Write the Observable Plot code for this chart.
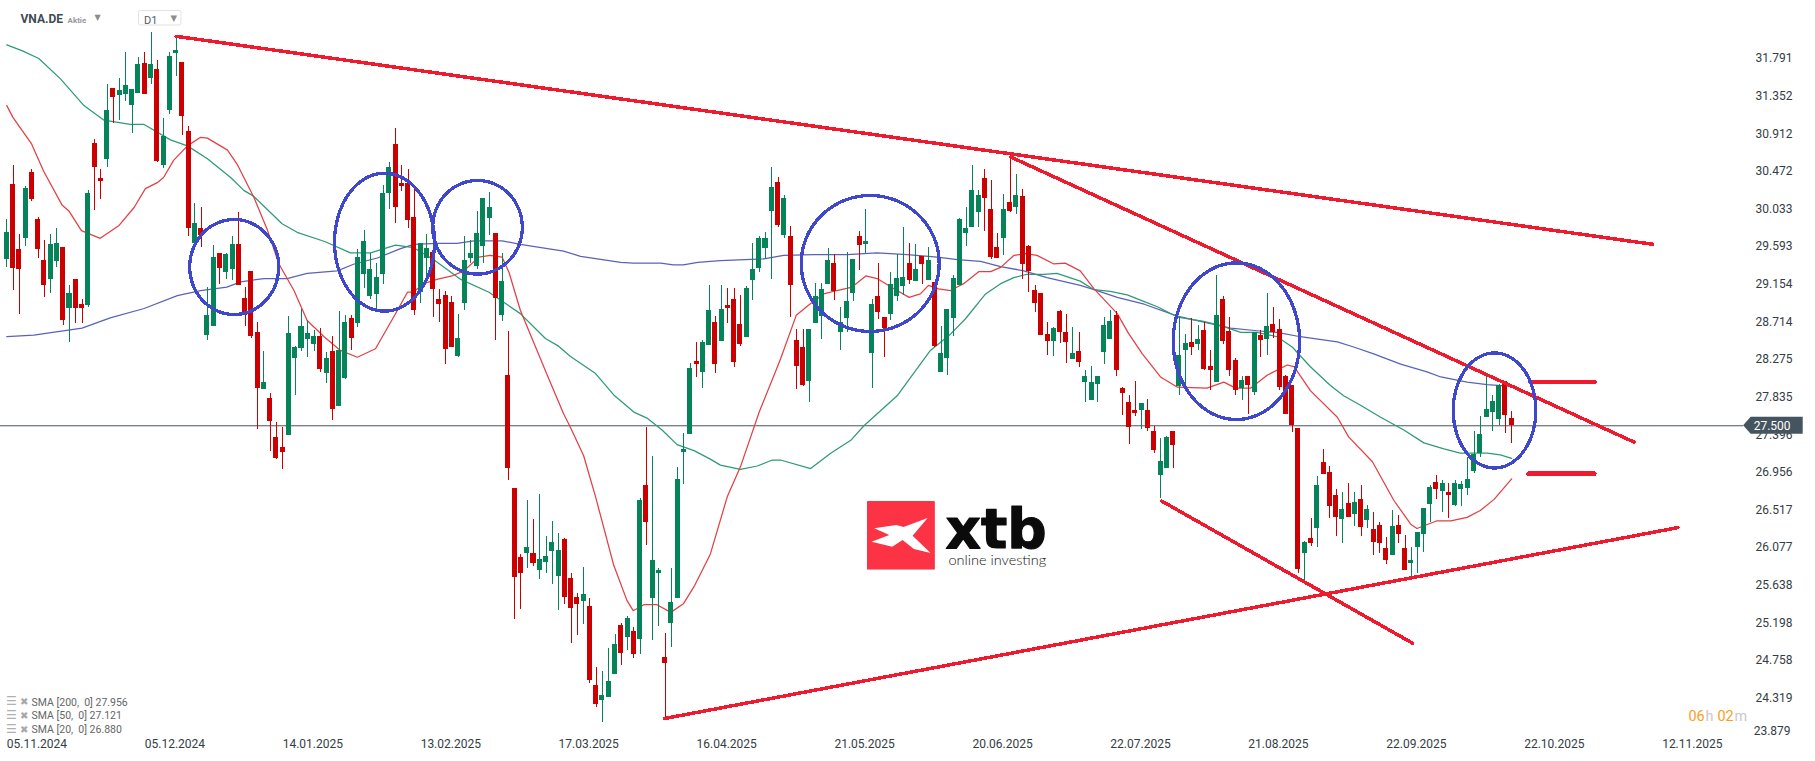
<!DOCTYPE html>
<html><head><meta charset="utf-8">
<style>html,body{margin:0;padding:0;background:#fff;overflow:hidden}</style>
<script src="https://cdn.jsdelivr.net/npm/d3@7"></script>
<script src="https://cdn.jsdelivr.net/npm/@observablehq/plot@0.6"></script>
</head><body><script>
const high=[29.91,30.54,29.74,30.30,30.49,29.93,29.66,29.73,29.80,29.58,
29.14,29.21,28.98,30.25,30.84,30.49,31.49,31.44,31.56,31.86,
31.43,31.80,31.86,32.09,31.77,31.09,31.86,32.05,31.74,31.00,
30.10,30.05,29.12,29.61,29.51,29.51,29.71,29.99,29.12,29.30,
28.71,28.37,27.88,27.54,27.48,28.78,28.43,28.86,28.73,28.61,
28.64,28.36,28.54,28.84,28.79,28.79,29.56,29.78,29.51,29.40,
30.31,30.58,30.97,30.54,30.49,30.28,29.63,29.73,29.58,29.09,
29.07,29.01,28.80,29.71,29.66,30.00,30.16,30.23,29.75,29.51,
28.60,26.77,26.00,26.63,26.41,26.70,26.21,26.38,26.24,26.18,
25.78,25.54,25.85,25.48,24.68,24.63,24.90,25.06,25.19,25.27,
25.14,26.65,27.48,27.14,25.83,25.07,25.83,27.01,27.41,28.23,
28.47,28.50,29.14,28.78,29.14,29.10,29.10,29.02,29.13,29.63,
29.71,29.76,30.52,30.40,30.19,29.83,28.63,28.63,28.63,29.16,
29.16,29.57,29.50,28.88,29.52,29.44,29.77,30.03,28.98,29.40,
28.77,29.29,29.50,29.82,29.63,29.62,29.48,29.58,29.17,28.66,
28.86,29.26,29.92,30.05,30.54,30.25,30.49,30.37,29.75,30.20,
30.65,30.44,30.26,29.61,29.14,29.05,28.71,28.65,28.85,28.80,
28.65,28.59,28.14,28.19,28.08,28.77,28.85,28.84,27.95,27.85,
28.02,27.76,27.81,27.49,27.35,27.38,27.43,28.77,28.57,28.75,
28.67,28.71,28.38,29.26,29.01,28.77,28.29,28.07,28.08,28.59,
28.61,29.05,28.88,28.74,28.09,27.97,27.47,26.15,26.42,26.91,
27.22,27.02,26.76,26.72,26.83,26.72,26.80,26.57,26.49,26.37,
26.19,26.51,26.45,26.22,26.08,26.25,26.53,26.80,26.92,26.86,
26.83,26.86,26.85,27.13,27.43,27.61,28.06,27.85,27.98,28.02,
27.67];
const low=[29.35,29.08,28.80,29.59,30.12,29.45,29.00,29.05,29.35,28.67,
28.47,28.70,28.70,28.88,30.02,30.14,30.52,31.03,31.07,31.29,
30.91,31.38,31.37,31.49,30.58,30.51,31.14,31.58,30.89,29.71,
29.59,29.58,28.50,28.66,29.15,29.21,29.20,29.14,28.66,28.52,
27.46,27.92,27.20,27.11,26.99,27.39,27.85,28.37,28.30,28.37,
28.12,27.99,27.56,27.73,28.04,28.38,28.65,29.10,28.98,28.86,
29.15,30.03,29.86,30.24,29.80,28.79,28.93,29.20,28.77,28.71,
28.22,28.41,28.30,28.85,29.40,29.33,29.40,29.72,28.50,28.72,
26.86,25.24,25.35,25.83,25.86,25.70,25.78,25.65,25.34,25.41,
24.96,25.05,25.18,24.49,24.21,24.03,24.33,24.60,24.70,24.88,
24.78,24.83,26.10,24.99,25.16,24.08,24.91,25.48,26.81,27.40,
28.06,27.94,28.44,28.11,28.49,28.70,28.18,28.43,28.53,28.96,
29.29,29.44,29.21,29.82,29.69,28.77,27.92,27.96,27.77,28.70,
28.51,29.15,28.96,28.38,28.59,28.95,29.31,29.51,27.94,28.74,
28.30,28.73,28.95,29.02,29.15,29.19,29.15,29.20,28.41,28.12,
28.09,28.54,29.14,29.60,29.82,29.82,29.77,29.44,29.45,29.49,
29.99,29.97,29.21,29.06,28.82,28.56,28.32,28.31,28.46,28.23,
28.28,28.18,27.77,27.80,27.77,28.22,28.51,28.07,27.62,27.28,
27.61,27.46,27.43,27.18,26.65,27.00,27.00,27.85,27.96,28.32,
28.38,28.14,27.91,28.01,28.45,28.07,27.85,27.80,27.63,27.85,
28.30,28.32,28.52,27.91,27.63,27.42,25.77,25.67,26.09,26.08,
26.93,26.42,26.21,26.13,26.43,26.32,26.21,26.30,25.98,26.01,
25.88,25.98,26.13,25.81,25.74,25.77,26.02,26.37,26.64,26.49,
26.42,26.56,26.56,26.69,26.94,27.13,27.60,27.43,27.50,27.41,
27.29];
const open=[29.44,30.32,29.56,29.69,30.46,29.91,29.43,29.21,29.42,29.58,
28.87,29.21,28.92,28.91,30.80,30.39,30.61,31.44,31.36,31.37,
31.24,31.38,31.73,31.56,31.66,30.54,31.18,31.85,31.74,30.94,
29.63,29.80,28.55,28.66,29.51,29.29,29.33,29.62,28.99,29.30,
28.59,27.92,27.82,27.36,27.25,27.39,28.29,28.40,28.51,28.45,
28.54,28.11,28.37,27.73,28.05,28.75,28.70,29.27,29.01,29.03,
29.27,30.21,30.79,30.33,30.33,29.93,29.06,29.45,29.52,28.98,
29.02,28.94,28.31,28.93,29.45,29.36,29.59,29.92,29.75,28.79,
28.09,26.77,25.96,26.01,26.01,25.81,25.90,26.03,25.74,26.17,
25.72,25.49,25.45,25.39,24.47,24.29,24.33,24.60,25.17,25.03,
25.10,25.00,26.80,25.48,25.78,24.79,25.19,25.48,27.19,27.40,
28.25,28.12,28.44,28.71,28.49,28.91,28.98,28.68,28.53,29.20,
29.34,29.57,30.00,30.34,29.72,29.71,28.50,28.42,28.02,28.70,
28.78,29.15,29.40,28.59,28.75,29.05,29.71,29.62,28.34,29.01,
28.77,28.80,29.01,29.13,29.40,29.19,29.48,29.20,29.17,28.12,
28.29,28.75,29.14,29.75,29.82,29.99,30.39,30.03,29.58,29.69,
30.11,30.05,30.18,29.60,29.08,29.05,28.57,28.49,28.84,28.59,
28.28,28.37,28.01,27.80,27.98,28.36,28.51,28.79,27.93,27.77,
27.68,27.68,27.68,27.43,26.92,27.00,27.43,27.96,28.38,28.47,
28.45,28.61,28.19,28.01,28.98,28.60,28.26,27.94,28.08,27.89,
28.56,28.51,28.68,28.63,28.07,27.97,27.47,26.01,26.18,26.30,
27.07,26.95,26.69,26.41,26.59,26.46,26.64,26.39,26.29,26.33,
26.07,25.98,26.33,26.07,25.89,26.08,26.23,26.58,26.84,26.73,
26.72,26.57,26.76,26.77,26.97,27.18,27.60,27.65,27.57,28.02,
27.59];
const close=[29.76,29.34,29.32,30.27,30.14,29.56,29.14,29.62,29.63,28.73,
29.05,28.87,28.87,30.21,30.52,30.35,31.18,31.34,31.42,31.48,
31.43,31.72,31.37,31.72,30.59,30.88,31.81,31.88,31.11,29.80,
29.86,29.72,28.79,29.47,29.34,29.50,29.62,29.14,28.79,28.54,
27.94,28.01,27.55,27.12,27.19,28.58,28.41,28.66,28.58,28.54,
28.16,28.29,27.69,28.38,28.71,28.52,29.47,29.65,29.33,29.23,
30.21,30.52,30.05,30.30,29.90,28.85,29.63,29.57,29.09,28.92,
28.39,28.41,28.52,29.43,29.51,29.75,30.16,30.05,28.99,29.19,
27.00,25.73,25.78,26.08,25.89,25.94,25.97,26.14,26.04,25.49,
25.37,25.41,25.53,24.52,24.24,24.35,24.51,24.95,24.84,25.25,
24.83,26.63,26.37,25.93,25.81,24.72,25.44,26.87,27.22,28.17,
28.22,28.47,28.85,28.22,28.86,28.87,28.24,28.45,29.10,29.33,
29.69,29.69,30.28,29.84,30.16,29.14,28.19,27.97,28.63,29.01,
29.09,29.43,29.07,28.71,28.95,29.44,29.61,29.65,28.92,28.82,
28.64,29.15,29.22,29.23,29.20,29.33,29.38,29.43,28.43,28.34,
28.86,29.22,29.91,29.81,30.25,30.19,30.16,29.47,29.45,30.03,
30.00,30.19,29.38,29.30,28.93,28.56,28.49,28.64,28.59,28.47,
28.35,28.24,28.07,28.00,28.08,28.67,28.72,28.15,27.88,27.48,
27.64,27.76,27.47,27.21,27.08,27.36,27.27,28.32,28.46,28.42,
28.51,28.16,28.14,28.79,28.49,28.15,27.91,28.03,27.97,28.59,
28.50,28.66,28.59,27.95,27.63,27.50,25.82,26.14,26.13,26.80,
26.93,26.56,26.43,26.52,26.43,26.60,26.31,26.52,26.14,26.13,
25.93,26.32,26.23,25.81,25.93,26.25,26.53,26.78,26.76,26.83,
26.69,26.83,26.81,26.87,27.16,27.40,27.69,27.78,27.97,27.62,
27.50];

const sma20Index=[0,1,3.9,5.9,8.8,9.9,11.9,14.9,17.9,20.3,22.1,24,25,26.6,28.8,30.9,32,33.6,35.2,36.7,39.4,41.5,43.4,45.8,47.9,50.6,53.2,55.9,58.8,61.7,63.9,64.8,66.5,68.6,71,72.9,75.3,77.1,79,80.1,81.9,84.1,86.2,88.8,89.9,92,93.9,96.8,98.9,99.9,101.6,103.7,105.9,107.9,109.6,112.2,114.9,117,120,123.4,125.9,127.9,130.3,132.4,134.8,137,138.8,141.5,143.9,145.7,147,148.6,150.5,152.6,155,156.9,158.5,160.6,162.5,164.3,167,168.8,171.2,173.4,177.1,178.9,181.1,184,186.7,191.4,194.1,196,198.4,201,204.2,205.3,207.9,212.2,214,217.8,221.2,223.9,224.9,228.1,230.3,232.9,235,237.2,240];
const sma20Value=[31.24,31.10,30.80,30.47,30.08,30.01,29.78,29.69,29.84,30.05,30.27,30.34,30.40,30.60,30.77,30.87,30.86,30.79,30.72,30.56,30.17,29.80,29.39,29.08,28.73,28.54,28.38,28.30,28.40,28.77,29.06,29.06,29.16,29.21,29.25,29.31,29.47,29.49,29.47,29.29,28.85,28.46,28.09,27.64,27.48,27.15,26.67,25.87,25.46,25.34,25.41,25.41,25.32,25.42,25.62,26.00,26.67,27.02,27.66,28.28,28.79,28.91,29.04,29.08,29.12,29.25,29.22,29.10,29.00,29.04,29.14,29.10,29.08,29.16,29.30,29.30,29.35,29.49,29.51,29.49,29.39,29.40,29.31,29.10,28.81,28.58,28.34,28.07,27.95,27.94,28.01,27.94,27.94,28.09,28.21,28.19,27.91,27.60,27.37,27.08,26.63,26.35,26.30,26.39,26.39,26.43,26.51,26.64,26.88];

const sma50Index=[0,2.5,5.1,8.6,12.3,15.5,19.7,21.9,26.1,28.8,32,35.7,37.8,39.4,43.9,46.3,50.8,54.8,58,62,64.9,68.1,72.4,76.9,81.9,85.9,88,89.9,93.9,96.8,100,102.1,104.5,106.9,109.6,112.2,113.8,117,119.7,122.1,123.4,128.2,131.4,134.6,136.7,142,145.2,147.3,150.5,152.9,156.1,158.5,160.6,162.7,165.4,167.5,171.2,173.4,176,178.7,181.4,183.5,186.7,190.9,193.6,196.8,199.4,202.6,205,207.9,211.1,213.2,215.9,219.1,222.8,226,229.2,231.8,236.1,238.2,240];
const sma50Value=[31.95,31.88,31.79,31.55,31.24,31.07,31.02,31.02,30.84,30.77,30.62,30.40,30.25,30.18,29.86,29.76,29.65,29.52,29.52,29.61,29.58,29.44,29.21,29.06,28.81,28.52,28.43,28.31,28.11,27.86,27.66,27.59,27.45,27.28,27.21,27.11,27.04,26.99,27.03,27.10,27.10,27.00,27.18,27.33,27.50,27.85,28.17,28.38,28.57,28.75,29.04,29.16,29.23,29.27,29.27,29.28,29.19,29.09,29.07,29.03,28.95,28.89,28.77,28.72,28.67,28.59,28.59,28.54,28.42,28.19,27.97,27.85,27.74,27.60,27.45,27.30,27.23,27.18,27.18,27.16,27.12];

const sma200Index=[0,4.3,12,16.5,21.9,27.2,30.9,35.1,37.3,41,44.7,47.9,52.7,55.4,59.1,62.8,64.9,68.6,71.8,74.5,79,81.9,88.8,91.5,97.9,99.9,104.3,106.3,107.9,110.2,113.8,120.7,123.9,128.7,134,138.8,143.6,148.4,151.6,155.3,158.5,162.2,165.9,171.2,173.4,177.1,181.4,186.7,190.9,195.2,199.4,202.6,206.3,212.2,214.8,218,222.3,226.5,228.7,232.9,236.1,240];
const sma200Value=[28.54,28.56,28.64,28.76,28.87,29.02,29.08,29.12,29.18,29.22,29.22,29.28,29.31,29.39,29.46,29.57,29.62,29.63,29.63,29.66,29.66,29.62,29.54,29.48,29.41,29.40,29.40,29.38,29.38,29.41,29.43,29.45,29.49,29.50,29.50,29.52,29.50,29.47,29.44,29.42,29.36,29.31,29.23,29.14,29.09,29.00,28.92,28.78,28.71,28.64,28.61,28.59,28.54,28.48,28.42,28.34,28.22,28.13,28.07,28.01,27.98,27.96];

const dateTicks=[0,22,44,66,88,110,132,154,176,198,220,242,264];
const dateLabels=["05.11.2024","05.12.2024","14.01.2025","13.02.2025","17.03.2025","16.04.2025","21.05.2025","20.06.2025","22.07.2025","21.08.2025","22.09.2025","22.10.2025","12.11.2025"];
const priceTicks=[31.791,31.352,30.912,30.472,30.033,29.593,29.154,28.714,28.275,27.835,27.396,26.956,26.517,26.077,25.638,25.198,24.758,24.319];
const lastPrice=27.5;

const trendFromIndex=[27,160.1,104.9,184.2,243,242.7];
const trendFromPrice=[32.05,30.64,24.08,26.62,28.01,26.94];
const trendToIndex=[262.5,259.5,266.5,224.2,253.2,253.2];
const trendToPrice=[29.62,27.31,26.31,24.96,28.01,26.94];
const trendWidth=[3.5,3.5,3.5,3.5,4.7,4.7];

const ringIndex=[36.27,60.24,75.07,137.7,196.1,237.27];
const ringPrice=[29.355,29.645,29.819,29.396,28.488,27.679];
const ringRadiusIndex=[7.1,7.97,7.145,11,10.08,6.59];
const ringRadiusPrice=[.555,.806,.547,.794,.915,.672];

const up="#05845a",down="#cc0000",red="#ef1a2d",blue="#3f48cc";
const idx=d3.range(high.length);
const isUp=i=>close[i]>=open[i];
const smaLine=(X,Y,stroke)=>Plot.line(d3.range(X.length),{x:i=>X[i],y:i=>Y[i],stroke,strokeWidth:1.25});
const label=(t,x,y,o={})=>Plot.text([t],{frameAnchor:"top-left",dx:x,dy:y,lineAnchor:"middle",textAnchor:"start",...o});

const trendPoints=trendFromIndex.flatMap((_,t)=>[{t,x:trendFromIndex[t],y:trendFromPrice[t]},{t,x:trendToIndex[t],y:trendToPrice[t]}]);
const ringPoints=ringIndex.flatMap((_,r)=>d3.range(0,361,3).map(a=>({r,
  x:ringIndex[r]+ringRadiusIndex[r]*Math.cos(a*Math.PI/180),
  y:ringPrice[r]+ringRadiusPrice[r]*Math.sin(a*Math.PI/180)})));

const markSvg="data:image/svg+xml,"+encodeURIComponent('<svg xmlns="http://www.w3.org/2000/svg" viewBox="0 0 204 206"><rect width="204" height="206" rx="3" fill="#fb3344"/><path d="M22 82L88 72L110 78L182 51L137 104L191 156L141 144L107 117L76 137L14 122L67 102Z" fill="#fff"/></svg>');

const chart=Plot.plot({
  width:1815,height:761,margin:0,
  style:{fontFamily:"Roboto",fontSize:"12px",background:"#fff",color:"#343c44"},
  x:{domain:[-1.005,288.46],range:[0,1815]},
  y:{domain:[23.578,32.468],range:[761,0]},
  color:{type:"identity"},
  marks:[
    Plot.axisX({ticks:dateTicks,tickFormat:d=>dateLabels[dateTicks.indexOf(d)],tickSize:0,tickPadding:-22,textAnchor:"start",label:null,fill:"#343c44",fontSize:12}),
    Plot.axisY({anchor:"right",ticks:priceTicks,tickFormat:d=>d.toFixed(3),tickSize:0,tickPadding:-60,textAnchor:"start",label:null,fill:"#343c44",fontSize:12}),
    Plot.text(["23.879"],{x:278.6,y:[23.879],dy:-4.5,textAnchor:"start",fill:"#343c44",fontSize:12}),
    Plot.ruleY([lastPrice],{x1:-1.005,x2:277,stroke:"#4a555d",strokeWidth:1}),
    smaLine(sma200Index,sma200Value,"#5a62b8"),
    smaLine(sma50Index,sma50Value,"#2f9a76"),
    smaLine(sma20Index,sma20Value,"#e04044"),
    Plot.ruleX(idx,{x:i=>i,y1:i=>low[i],y2:i=>high[i],stroke:i=>isUp(i)?up:down,strokeWidth:1,shapeRendering:"crispEdges"}),
    Plot.rect(idx,{x1:i=>i-.4,x2:i=>i+.4,y1:i=>Math.min(open[i],close[i]),y2:i=>Math.max(open[i],close[i]),fill:i=>isUp(i)?up:down,shapeRendering:"crispEdges"}),
    Plot.line(trendPoints.filter(d=>trendWidth[d.t]<4),{x:"x",y:"y",z:"t",stroke:red,strokeWidth:3.5,shapeRendering:"crispEdges"}),
    Plot.line(trendPoints.filter(d=>trendWidth[d.t]>=4),{x:"x",y:"y",z:"t",stroke:red,strokeWidth:4.7,shapeRendering:"crispEdges"}),
    Plot.line(ringPoints,{x:"x",y:"y",z:"r",stroke:blue,strokeWidth:3.3,shapeRendering:"crispEdges"}),
    Plot.areaY([277,278.2,286.5],{x:d=>d,y1:d=>d===277?lastPrice:27.40,y2:d=>d===277?lastPrice:27.60,fill:"#45555f"}),
    Plot.text(["27.500"],{x:278.6,y:[lastPrice],textAnchor:"start",fill:"#fff",fontSize:12}),
    Plot.image([0],{x:142.6,y:[26.22],src:markSvg,width:68,height:69}),
    label("xtb",945,530,{fontFamily:"DejaVu Sans",fontWeight:"bold",fontSize:55,fill:"#0b0b0b",stroke:"#0b0b0b",strokeWidth:1.2}),
    label("online investing",948,560,{fontFamily:"Lato",fontWeight:300,fontSize:14.5,fill:"#111"}),
    label("VNA.DE",20,19,{fontWeight:"bold",fontSize:12,fill:"#3f4b55"}),
    label("Aktie",67,19.5,{fontWeight:"bold",fontSize:8,fill:"#9a9a9a"}),
    label("▼",94,17,{fontSize:8,fill:"#8d8d8d",fontFamily:"DejaVu Sans"}),
    Plot.rect([0],{x1:21.08,x2:27.86,y1:[32.176],y2:[32.346],fill:"none",stroke:"#e2e2e2",rx:2}),
    label("D1",143.5,20,{fontSize:11,fill:"#555c62"}),
    label("▼",170,17.5,{fontSize:8.5,fill:"#8d8d8d",fontFamily:"DejaVu Sans"}),
    label("SMA [200,  0] 27.956",31,701.7,{fontSize:10.5,fill:"#666"}),
    label("SMA [50,  0] 27.121",31,715,{fontSize:10.5,fill:"#666"}),
    label("SMA [20,  0] 26.880",31,729.3,{fontSize:10.5,fill:"#666"}),
    label("☰",5.5,701,{fontSize:12,fill:"#b0b0b0",fontFamily:"DejaVu Sans"}),
    label("☰",5.5,714.5,{fontSize:12,fill:"#b0b0b0",fontFamily:"DejaVu Sans"}),
    label("☰",5.5,728.5,{fontSize:12,fill:"#b0b0b0",fontFamily:"DejaVu Sans"}),
    label("✖",19.5,701.7,{fontSize:10,fill:"#a8a8a8",fontFamily:"DejaVu Sans"}),
    label("✖",19.5,715,{fontSize:10,fill:"#a8a8a8",fontFamily:"DejaVu Sans"}),
    label("✖",19.5,729.3,{fontSize:10,fill:"#a8a8a8",fontFamily:"DejaVu Sans"}),
    label("06",1688,716,{fontSize:14.4,fill:"#f7a01e"}),
    label("h",1705,716,{fontSize:14.4,fill:"#c8c8c8"}),
    label("02",1717,716,{fontSize:14.4,fill:"#f7a01e"}),
    label("m",1734,716,{fontSize:14.4,fill:"#c8c8c8"})
  ]
});
document.body.appendChild(chart);
</script></body></html>
